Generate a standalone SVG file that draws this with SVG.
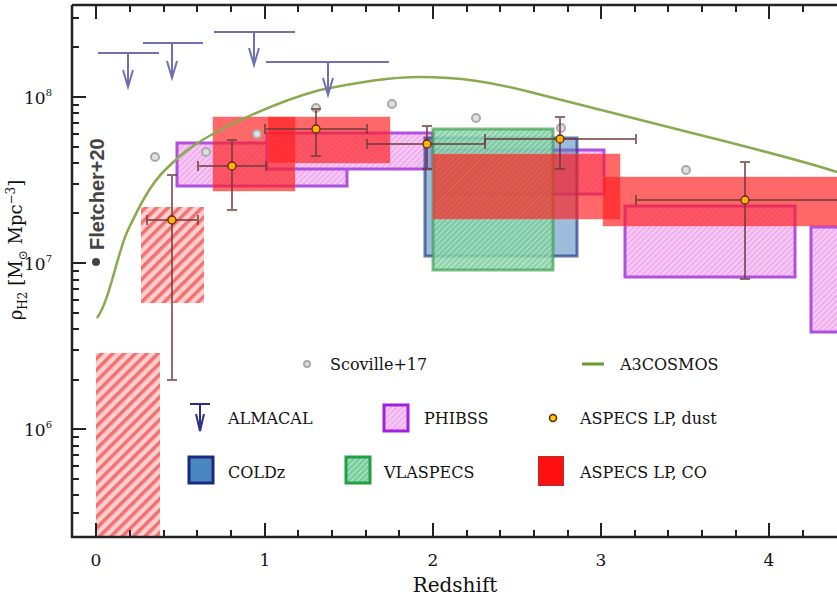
<svg xmlns="http://www.w3.org/2000/svg" width="837" height="600" viewBox="0 0 837 600">
<defs>
<pattern id="hr" width="8" height="8" patternUnits="userSpaceOnUse" patternTransform="rotate(45)"><rect width="8" height="8" fill="#ffc8c8"/><rect width="3.5" height="8" fill="#f06060"/></pattern>
<pattern id="hp" width="4" height="4" patternUnits="userSpaceOnUse" patternTransform="rotate(45)"><rect width="4" height="4" fill="#f6c6f4"/><rect width="1" height="4" fill="#e8a0e8"/></pattern>
<pattern id="hg" width="4" height="4" patternUnits="userSpaceOnUse" patternTransform="rotate(45)"><rect width="4" height="4" fill="#7ccda0"/><rect width="1" height="4" fill="#b8e8c8"/></pattern>
<clipPath id="c"><rect x="72" y="5" width="765" height="532"/></clipPath>
</defs>
<style>
text{font-family:"DejaVu Serif","Liberation Serif",serif;fill:#111}
.ph{fill:url(#hp);stroke:#b050e0;stroke-width:3}
.co{fill:#ff2020;fill-opacity:.68;stroke:#ff6060;stroke-opacity:.4}
.eb{stroke:#6e3a3a;stroke-opacity:.75;stroke-width:2;fill:none}
.dot{fill:#f8b800;stroke:#6e2020;stroke-width:1.3}
.sc{fill:#e0e0e0;stroke:#aaa;stroke-width:2}
.al{stroke:#7070b0;stroke-width:2;fill:none}
.ax{stroke:#222;stroke-width:2.5;fill:none}
.tk{stroke:#222;stroke-width:2}
</style>
<rect width="837" height="600" fill="#fff"/>
<g clip-path="url(#c)">
<g id="fletcher">
<rect x="96" y="353" width="64" height="184" fill="url(#hr)" opacity=".9"/>
<rect x="141" y="207" width="63" height="96" fill="url(#hr)" opacity=".9"/>
</g>
<g id="phibss">
<rect class="ph" x="177" y="143" width="170" height="43"/>
<rect class="ph" x="267" y="133" width="166" height="36"/>
<rect class="ph" x="435" y="150" width="169" height="44"/>
<rect class="ph" x="625" y="206" width="170" height="71"/>
<rect class="ph" x="811" y="227" width="40" height="105"/>
</g>
<g id="coldz"><rect x="425" y="138" width="152" height="118" fill="#4a86c0" fill-opacity=".55" stroke="#2a3a8a" stroke-width="3" stroke-opacity=".7"/></g>
<g id="vlaspecs"><rect x="433" y="129" width="120" height="141" fill="url(#hg)" fill-opacity=".85" stroke="#40a050" stroke-width="3" stroke-opacity=".7"/></g>
<g id="aspecs-co">
<rect class="co" x="213" y="117" width="82" height="74"/>
<rect class="co" x="268" y="117" width="122" height="46"/>
<rect class="co" x="433" y="154" width="187" height="65"/>
<rect class="co" x="603" y="177" width="240" height="49"/>
</g>
<g id="a3cosmos"><path d="M97,318 C110,300 118,250 128,230 C140,205 150,185 165,170 C185,150 200,140 230,125 C265,108 290,98 320,90 C360,82 390,77 420,77 C460,77 490,82 530,92 C580,105 640,120 700,135 C760,150 800,160 837,172" fill="none" stroke="#8aaa50" stroke-width="2.5"/></g>
<g id="scoville">
<circle class="sc" cx="155" cy="157" r="4"/><circle class="sc" cx="206" cy="152" r="4"/><circle class="sc" cx="257" cy="134" r="4"/><circle class="sc" cx="316" cy="108" r="4"/><circle class="sc" cx="392" cy="104" r="4"/><circle class="sc" cx="476" cy="118" r="4"/><circle class="sc" cx="561" cy="128" r="4"/><circle class="sc" cx="686" cy="170" r="4"/>
</g>
<g id="almacal">
<path class="al" d="M98,53H159M128,53V87M123,70L128,87L133,70M143,43H203M172,43V78M167,61L172,78L177,61M214,32H295M254,32V65M249,48L254,65L259,48M266,62H389M328,62V95M323,78L328,95L333,78"/>
</g>
<g id="aspecs-dust">
<path class="eb" d="M147,220H198M147,215V225M198,215V225M172,175V380M167,175H177M167,380H177"/>
<path class="eb" d="M198,166H266M198,161V171M266,161V171M232,140V210M227,140H237M227,210H237"/>
<path class="eb" d="M265,129H367M265,124V134M367,124V134M316,109V156M311,109H321M311,156H321"/>
<path class="eb" d="M367,144H485M367,139V149M485,139V149M427,126V169M422,126H432M422,169H432"/>
<path class="eb" d="M485,139H636M485,134V144M636,134V144M560,117V169M555,117H565M555,169H565"/>
<path class="eb" d="M636,200H837M636,195V205M745,162V279M740,162H750M740,279H750"/>
<circle class="dot" cx="172" cy="220" r="4"/><circle class="dot" cx="232" cy="166" r="4"/><circle class="dot" cx="316" cy="129" r="4"/><circle class="dot" cx="427" cy="144" r="4"/><circle class="dot" cx="560" cy="139" r="4"/><circle class="dot" cx="745" cy="200" r="4"/>
</g>
</g>
<g id="axes">
<path class="ax" d="M72,5V537H837M72,5H837"/>
<path class="tk" d="M96,537v-14M265,537v-14M433,537v-14M601,537v-14M769,537v-14M96,5v14M265,5v14M433,5v14M601,5v14M769,5v14"/>
<path class="tk" d="M130,537v-7M164,537v-7M197,537v-7M231,537v-7M298,537v-7M332,537v-7M366,537v-7M399,537v-7M467,537v-7M500,537v-7M534,537v-7M568,537v-7M635,537v-7M668,537v-7M702,537v-7M736,537v-7M803,537v-7M130,5v7M164,5v7M197,5v7M231,5v7M298,5v7M332,5v7M366,5v7M399,5v7M467,5v7M500,5v7M534,5v7M568,5v7M635,5v7M668,5v7M702,5v7M736,5v7M803,5v7"/>
<path class="tk" d="M72,97h14M72,263h14M72,429h14"/>
<path class="tk" d="M72,513h7M72,495h7M72,479h7M72,466h7M72,455h7M72,446h7M72,437h7M72,380h7M72,350h7M72,329h7M72,313h7M72,300h7M72,289h7M72,280h7M72,271h7M72,213h7M72,184h7M72,163h7M72,147h7M72,134h7M72,123h7M72,113h7M72,105h7M72,47h7M72,18h7"/>
<text x="96" y="566" font-size="17" text-anchor="middle">0</text>
<text x="265" y="566" font-size="17" text-anchor="middle">1</text>
<text x="433" y="566" font-size="17" text-anchor="middle">2</text>
<text x="601" y="566" font-size="17" text-anchor="middle">3</text>
<text x="769" y="566" font-size="17" text-anchor="middle">4</text>
<text x="455" y="592" font-size="20" text-anchor="middle">Redshift</text>
<text x="52" y="104" font-size="17" text-anchor="end">10<tspan dy="-8" font-size="10">8</tspan></text>
<text x="52" y="270" font-size="17" text-anchor="end">10<tspan dy="-8" font-size="10">7</tspan></text>
<text x="52" y="436" font-size="17" text-anchor="end">10<tspan dy="-8" font-size="10">6</tspan></text>
<text transform="translate(22,250) rotate(-90)" font-size="18" text-anchor="middle">ρ<tspan font-size="12" dy="5">H2</tspan><tspan dy="-5">  [M</tspan><tspan font-size="12" dy="5">⊙</tspan><tspan dy="-5"> Mpc</tspan><tspan font-size="12" dy="-7">−3</tspan><tspan dy="7">]</tspan></text>
</g>
<g id="fletcher-label">
<circle cx="96" cy="262" r="4" fill="#444"/>
<text transform="translate(104,250) rotate(-90)" font-weight="bold" font-size="20" style="fill:#444;font-family:'Liberation Sans',sans-serif">Fletcher+20</text>
</g>
<g id="legend" font-size="16">
<circle cx="307" cy="364" r="3" class="sc"/><text x="330" y="370">Scoville+17</text>
<path d="M582,364H604" stroke="#6a9a30" stroke-width="3"/><text x="620" y="370">A3COSMOS</text>
<path d="M190,404H210M200,404V431M196,414L200,431L204,414" stroke="#303080" stroke-width="2" fill="none"/><text x="228" y="424">ALMACAL</text>
<rect x="384" y="405" width="24" height="26" fill="url(#hp)" stroke="#a020e0" stroke-width="3"/><text x="424" y="424">PHIBSS</text>
<circle cx="553" cy="418" r="3.5" fill="#f8d000" stroke="#5a2000" stroke-width="1.5"/><text x="580" y="424">ASPECS LP, dust</text>
<rect x="189" y="457" width="24" height="26" fill="#4a86c0" stroke="#1a2a80" stroke-width="3"/><text x="228" y="478">COLDz</text>
<rect x="346" y="457" width="24" height="26" fill="url(#hg)" stroke="#20a040" stroke-width="3"/><text x="384" y="478">VLASPECS</text>
<rect x="539" y="457" width="24" height="28" fill="#ff1010" stroke="#d02020" stroke-width="2"/><text x="580" y="478">ASPECS LP, CO</text>
</g>
</svg>
